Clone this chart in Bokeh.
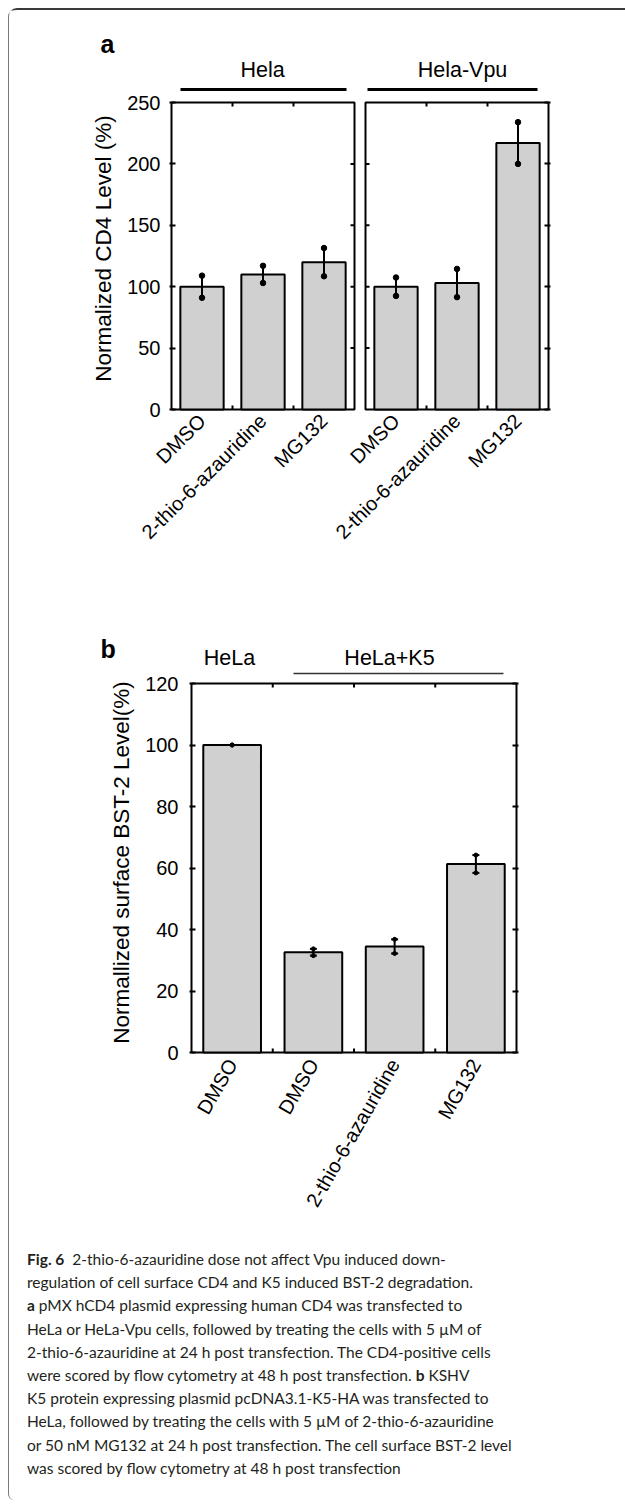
import math
from bokeh.plotting import figure
from bokeh.models import Range1d, LinearAxis, FixedTicker, Div, Column
from bokeh.core.properties import value
from bokeh.embed import file_html
from bokeh.resources import INLINE

# ---------------- data ----------------
a_categories = ["DMSO", "2-thio-6-azauridine", "MG132"]
a_hela_values = [100, 110, 120]
a_hela_errors = [9, 7, 11.5]
a_vpu_values = [100, 103, 217]
a_vpu_errors = [7.5, 11.5, 17]
a_yticks = [0, 50, 100, 150, 200, 250]
a_groups = ["Hela", "Hela-Vpu"]
a_ylabel = "Normalized CD4 Level (%)"

b_categories = ["DMSO", "DMSO", "2-thio-6-azauridine", "MG132"]
b_values = [100, 32.6, 34.5, 61.3]
b_errors = [0, 1.1, 2.3, 2.9]
b_yticks = [0, 20, 40, 60, 80, 100, 120]
b_groups = ["HeLa", "HeLa+K5"]
b_ylabel = "Normallized surface BST-2 Level(%)"

FONT = "Liberation Sans"
BAR_FILL = "#d0d0d0"
TICK_FONT = "20px"
YLAB_FONT = "22.5px"
GROUP_FONT = "21.5px"
PANEL_FONT = "25px"
W = 608
BAR_W = 0.71
TICK_PX = 4
PAD = 2
ORIGIN_X = 9      # page x of the content's left edge
TEXT_SHIFT = 7    # rendered baseline sits this much lower than requested


def no_align(p):
    if "frame_align" in p.properties():
        p.frame_align = False


def axis_kw():
    return dict(axis_line_width=2, axis_line_color=None,
                major_tick_line_width=2, major_tick_line_color="black",
                major_tick_in=int(TICK_PX + PAD), major_tick_out=0,
                major_label_text_font=FONT, major_label_text_color="black",
                major_label_text_font_size=TICK_FONT)


def header_fig(height, page_top):
    p = figure(width=W, height=height, x_range=Range1d(0, W), y_range=Range1d(height, 0),
               output_backend="svg", toolbar_location=None, title_location=None,
               x_axis_type=None, y_axis_type=None, min_border=0)
    p.outline_line_color = None
    no_align(p)
    p._page_top = page_top
    return p


def htext(p, page_x, page_y, t, size, bold=False, align="center"):
    p.text(x=[page_x - ORIGIN_X], y=[page_y - p._page_top - TEXT_SHIFT], text=[t],
           text_font=value(FONT), text_font_size=value(size),
           text_font_style="bold" if bold else "normal", text_align=align,
           text_baseline="alphabetic", text_color="black")


class Body:
    """A figure whose frame surrounds the page-pixel box; boxes drawn as quads."""

    def __init__(self, height, page_top, box_px, box_x, box_y, frame_top_px):
        bx0, by0, bx1, by1 = box_px
        self.sx = (bx1 - bx0) / (box_x[1] - box_x[0])
        self.sy = (by1 - by0) / (box_y[1] - box_y[0])
        self.bx0, self.by1 = bx0, by1
        self.box_x, self.box_y = box_x, box_y
        fx0, fx1 = bx0 - PAD, bx1 + PAD
        fy0, fy1 = frame_top_px, by1 + PAD
        xr = (box_x[0] - PAD / self.sx, box_x[1] + PAD / self.sx)
        yr = (box_y[0] - PAD / self.sy, box_y[1] + (by0 - fy0) / self.sy)
        bl = int(fx0 - ORIGIN_X)
        fw = int(fx1 - fx0)
        bt = int(fy0 - page_top)
        fh = int(fy1 - fy0)
        p = figure(width=W, height=height, x_range=Range1d(*xr), y_range=Range1d(*yr),
                   output_backend="svg", toolbar_location=None, title_location=None,
                   x_axis_type=None, y_axis_type=None,
                   min_border_left=bl, min_border_right=W - bl - fw,
                   min_border_top=bt, min_border_bottom=height - bt - fh)
        p.outline_line_color = None
        no_align(p)
        self.p = p

    def to_data(self, px, py):
        x = self.box_x[0] + (px - self.bx0) / self.sx
        y = self.box_y[0] + (self.by1 - py) / self.sy
        return x, y

    def hline(self, px0, px1, py, width, color="black"):
        x0, y = self.to_data(px0, py)
        x1, _ = self.to_data(px1, py)
        self.p.segment(x0=[x0], y0=[y], x1=[x1], y1=[y], line_color=color, line_width=width)


def left_axis(p, yticks, label, tick_standoff):
    ya = LinearAxis(ticker=FixedTicker(ticks=yticks), major_label_standoff=tick_standoff, **axis_kw())
    ya.axis_label = label
    ya.axis_label_text_font = FONT
    ya.axis_label_text_font_size = YLAB_FONT
    ya.axis_label_text_font_style = "normal"
    ya.axis_label_text_color = "black"
    ya.axis_label_standoff = 8
    p.add_layout(ya, "left")


def right_axis(p, yticks):
    yr = LinearAxis(ticker=FixedTicker(ticks=yticks),
                    major_label_overrides={t: "" for t in yticks}, **axis_kw())
    p.add_layout(yr, "right")


def bottom_axis(p, xs, cats, angle, standoff):
    xa = LinearAxis(ticker=FixedTicker(ticks=xs),
                    major_label_overrides={x: c for x, c in zip(xs, cats)},
                    major_label_orientation=angle, major_label_standoff=standoff, **axis_kw())
    xa.major_tick_in = 0
    p.add_layout(xa, "below")


def boundary_ticks(p, bnd, ylo, yhi, dy):
    k = len(bnd)
    p.segment(x0=bnd, y0=[yhi] * k, x1=bnd, y1=[yhi - dy] * k, line_color="black", line_width=2)
    p.segment(x0=bnd, y0=[ylo] * k, x1=bnd, y1=[ylo + dy] * k, line_color="black", line_width=2)


def draw_bars(p, xs, vals, errs, caps=False):
    p.vbar(x=xs, top=vals, bottom=0, width=BAR_W, fill_color=BAR_FILL,
           line_color="black", line_width=2)
    lo = [v - e for v, e in zip(vals, errs)]
    hi = [v + e for v, e in zip(vals, errs)]
    p.segment(x0=xs, y0=lo, x1=xs, y1=hi, line_color="black", line_width=2)
    if caps:
        p.scatter(x=xs + xs, y=lo + hi, marker="dash", size=7, line_color="black", line_width=2)
        p.scatter(x=xs + xs, y=lo + hi, size=4, color="black")
    else:
        p.scatter(x=xs + xs, y=lo + hi, size=5.5, color="black")


# ================= panel a =================
ha = header_fig(74, 10)                   # page y 10..84
htext(ha, 100, 50, "a", PANEL_FONT, bold=True, align="left")
htext(ha, 262, 76, a_groups[0], GROUP_FONT)
htext(ha, 462, 76, a_groups[1], GROUP_FONT)

n_a = len(a_categories)
gap = 11.0 / 61.0                          # white gap between the two sub-panel boxes
left_box = (0.5, n_a + 0.5)
right_box = (n_a + 0.5 + gap, 2 * n_a + 0.5 + gap)
A = Body(536, 84, (171, 102, 548, 409), (left_box[0], right_box[1]),
         (a_yticks[0], a_yticks[-1]), 85)
pa = A.p
xs_left = [i + 1 for i in range(n_a)]
xs_right = [i + 1 + n_a + gap for i in range(n_a)]

pa.quad(left=[left_box[0], right_box[0]], right=[left_box[1], right_box[1]],
        bottom=[a_yticks[0]] * 2, top=[a_yticks[-1]] * 2,
        fill_color=None, line_color="black", line_width=2)
left_axis(pa, a_yticks, a_ylabel, 9)
right_axis(pa, a_yticks)
bottom_axis(pa, xs_left + xs_right, a_categories * 2, math.pi / 4, 6)

inner_y = a_yticks[1:-1]
m = len(inner_y)
dx = TICK_PX / A.sx
pa.segment(x0=[left_box[1]] * m, y0=inner_y, x1=[left_box[1] - dx] * m, y1=inner_y,
           line_color="black", line_width=2)
pa.segment(x0=[right_box[0]] * m, y0=inner_y, x1=[right_box[0] + dx] * m, y1=inner_y,
           line_color="black", line_width=2)
bnd_a = [x + 0.5 for x in xs_left[:-1]] + [x + 0.5 for x in xs_right[:-1]]
boundary_ticks(pa, bnd_a, a_yticks[0], a_yticks[-1], TICK_PX / A.sy)

draw_bars(pa, xs_left, a_hela_values, a_hela_errors)
draw_bars(pa, xs_right, a_vpu_values, a_vpu_errors)

A.hline(180, 346, 89, 3)
A.hline(367, 537, 89, 3)

# ================= panel b =================
hb = header_fig(50, 620)                  # page y 620..670
htext(hb, 100, 655, "b", PANEL_FONT, bold=True, align="left")
htext(hb, 229, 664, b_groups[0], GROUP_FONT)
htext(hb, 389, 664, b_groups[1], GROUP_FONT)

n_b = len(b_categories)
xs_b = [i + 1 for i in range(n_b)]
B = Body(565, 670, (191, 683, 516, 1052), (0.5, n_b + 0.5), (b_yticks[0], b_yticks[-1]), 670)
pb = B.p
pb.quad(left=[0.5], right=[n_b + 0.5], bottom=[b_yticks[0]], top=[b_yticks[-1]],
        fill_color=None, line_color="black", line_width=2)
left_axis(pb, b_yticks, b_ylabel, 11)
right_axis(pb, b_yticks)
bottom_axis(pb, xs_b, b_categories, math.radians(60), 6)
boundary_ticks(pb, [x + 0.5 for x in xs_b[:-1]], b_yticks[0], b_yticks[-1], TICK_PX / B.sy)
draw_bars(pb, xs_b, b_values, b_errors, caps=True)

B.hline(293, 503, 673, 1.3, color="#333333")

# ================= caption =================
caption_lines = [
    "<b>Fig. 6</b>&nbsp; 2-thio-6-azauridine dose not affect Vpu induced down-",
    "regulation of cell surface CD4 and K5 induced BST-2 degradation.",
    "<b>a</b> pMX hCD4 plasmid expressing human CD4 was transfected to",
    "HeLa or HeLa-Vpu cells, followed by treating the cells with 5 µM of",
    "2-thio-6-azauridine at 24 h post transfection. The CD4-positive cells",
    "were scored by flow cytometry at 48 h post transfection. <b>b</b> KSHV",
    "K5 protein expressing plasmid pcDNA3.1-K5-HA was transfected to",
    "HeLa, followed by treating the cells with 5 µM of 2-thio-6-azauridine",
    "or 50 nM MG132 at 24 h post transfection. The cell surface BST-2 level",
    "was scored by flow cytometry at 48 h post transfection",
]
cap_html = ('<div style="font-family:Lato; font-size:15.5px; line-height:23.2px; color:#231f20; '
            'white-space:nowrap; padding-left:13px; padding-top:8px;">'
            + "<br>".join(caption_lines) + "</div>")
cap = Div(text=cap_html, width=W, height=255)

root = Column(children=[ha, pa, hb, pb, cap], margin=(8, 0, 0, 8),
              styles={"border-top": "2px solid #3a3a3a", "border-left": "1px solid #7a7a7a",
                      "border-top-left-radius": "9px", "border-bottom-left-radius": "6px"})

open("out.html", "w").write(file_html(root, INLINE))
